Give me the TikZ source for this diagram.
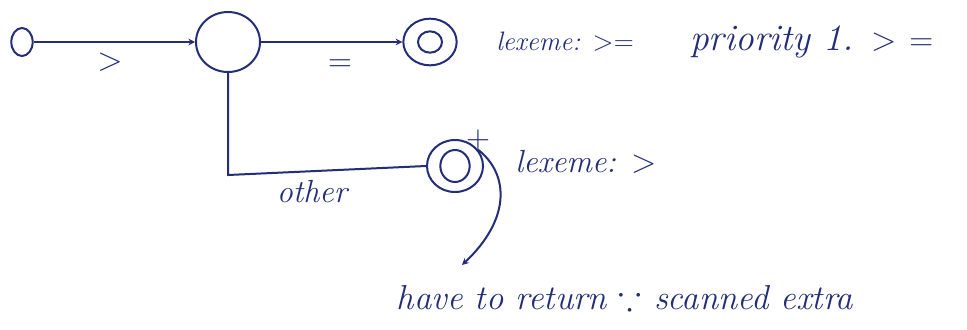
\documentclass[tikz,border=0pt]{standalone}
\usepackage{amssymb}
\usetikzlibrary{arrows.meta,shapes.geometric}
\definecolor{ink}{RGB}{35,45,120}
\begin{document}
\begin{tikzpicture}[x=0.75pt,y=-0.75pt,
  ln/.style={draw=ink,line width=1.5pt},
  st/.style={ellipse,draw=ink,line width=1.5pt,inner sep=0pt},
  lbl/.style={text=ink,font=\fontsize{24}{28}\selectfont\itshape,inner sep=0pt},
  edge/.style={ln,-{Stealth[length=5pt,width=5pt]}}]
\fill[white] (0,0) rectangle (967,329);
\useasboundingbox (0,0) rectangle (967,329);
\node[st,minimum width=16pt,minimum height=21pt] (s0) at (22,42) {};
\node[st,minimum width=48pt,minimum height=45pt] (s1) at (228,42) {};
\node[st,minimum width=40pt,minimum height=35pt] (s2) at (430,42) {};
\node[st,minimum width=18pt,minimum height=16pt] (s2i) at (430,42) {};
\node[st,minimum width=42pt,minimum height=39pt] (s3) at (455,166) {};
\node[st,minimum width=22pt,minimum height=24pt] (s3i) at (455,166) {};
\coordinate (c1) at (228,175);
\coordinate (e1) at (462,265);
\draw[edge] (s0) -- (s1);
\draw[edge] (s1) -- (s2);
\draw[ln] (s1.south) -- (c1) -- (s3.west);
\draw[edge] (s3.35) .. controls (510,175) and (510,220) .. (e1);
\node[lbl] (l1) at (110,62) {$>$};
\node[lbl] (l2) at (340,66) {$=$};
\node[lbl] (l3) at (312,192) {other};
\node[lbl] (l4) at (478,140) {$+$};
\node[lbl,anchor=west,font=\fontsize{20}{24}\selectfont\itshape] (t1) at (496,42) {lexeme: $>=$};
\node[lbl,anchor=west,font=\fontsize{28}{32}\selectfont\itshape] (t2) at (690,42) {priority 1. $>$ $=$};
\node[lbl,anchor=west] (t3) at (515,162) {lexeme: $>$};
\node[lbl,font=\fontsize{26}{30}\selectfont\itshape] (t4) at (625,298) {have to return $\because$ scanned extra};
\end{tikzpicture}
\end{document}
